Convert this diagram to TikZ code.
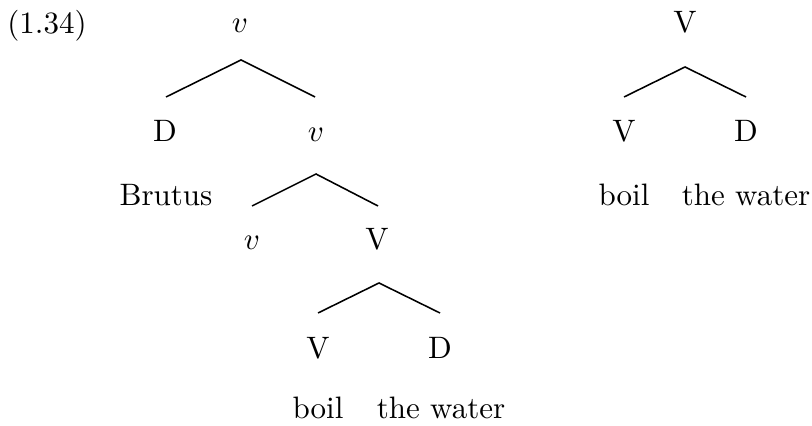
\documentclass[tikz,border=0pt]{standalone}
\usetikzlibrary{calc}
\begin{document}
\begin{tikzpicture}[x=0.3226pt,y=-0.3226pt,
  lbl/.style={anchor=base,inner sep=0pt,outer sep=0pt},
  edge/.style={draw=black,line width=0.5pt}]
\useasboundingbox (0,0) rectangle (812,426);
% example number
\node[lbl] (num) at (47,34) {(1.34)};
% left tree
\node[lbl] (vt) at (240,33) {$v$};
\node[lbl] (d1) at (165,142) {D};
\node[lbl] (v1) at (316,142) {$v$};
\node[lbl] (brutus) at (166,206) {Brutus};
\node[lbl] (v2) at (252,250) {$v$};
\node[lbl] (bigv1) at (377,250) {V};
\node[lbl] (bigv2) at (318,359) {V};
\node[lbl] (d2) at (440,359) {D};
\node[lbl] (boil1) at (318,419) {boil};
\node[lbl] (water1) at (441,419) {the water};
\draw[edge] ($(d1.base)+(1,-45)$) -- ($(vt.base)+(1,27)$) -- ($(v1.base)+(-1,-45)$);
\draw[edge] ($(v2.base)+(0,-44)$) -- ($(v1.base)+(0,32)$) -- ($(bigv1.base)+(1,-44)$);
\draw[edge] ($(bigv2.base)+(0,-46)$) -- ($(bigv1.base)+(2,33)$) -- ($(d2.base)+(0,-46)$);
% right tree
\node[lbl] (rv) at (685,33) {V};
\node[lbl] (rv1) at (624,142) {V};
\node[lbl] (rd) at (746,142) {D};
\node[lbl] (boil2) at (624,206) {boil};
\node[lbl] (water2) at (746,206) {the water};
\draw[edge] ($(rv1.base)+(0,-45)$) -- ($(rv.base)+(0,34)$) -- ($(rd.base)+(0,-45)$);
\end{tikzpicture}
\end{document}
